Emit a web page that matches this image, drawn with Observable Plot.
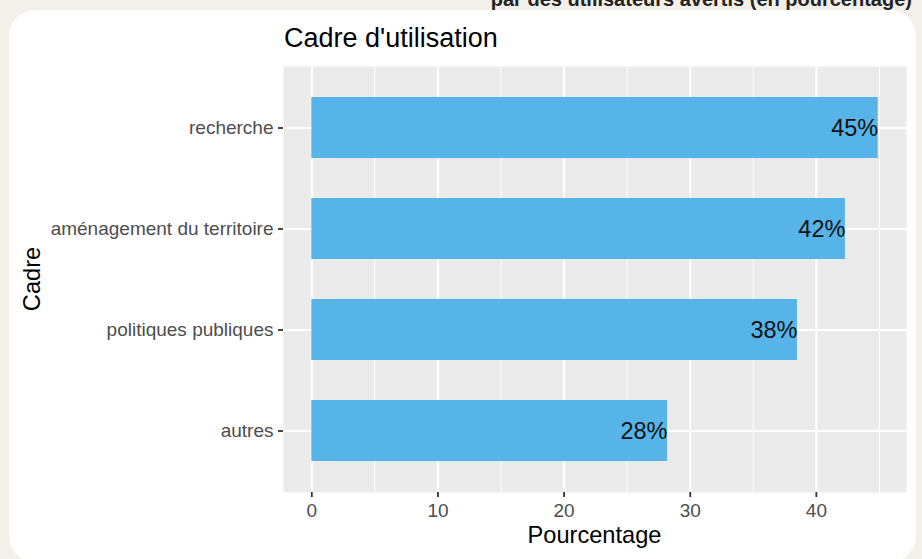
<!DOCTYPE html>
<html>
<head>
<meta charset="utf-8">
<script src="https://cdn.jsdelivr.net/npm/d3@7"></script>
<script src="https://cdn.jsdelivr.net/npm/@observablehq/plot@0.6"></script>
<style>
  html, body { margin: 0; padding: 0; }
  body { width: 922px; height: 559px; background: #f3efe9; position: relative; overflow: hidden;
         font-family: "Liberation Sans", Arial, Helvetica, sans-serif; }
  #card { position: absolute; left: 9px; top: 10px; width: 907px; height: 552px; background: #ffffff; border-radius: 26px; }
  #chart { position: absolute; left: 0; top: 0; }
  .txt { position: absolute; line-height: 1; white-space: nowrap; }
</style>
</head>
<body>
<div id="card"></div>
<div id="chart"></div>
<div class="txt" id="toptext" style="right:10px; top:-11px; font-size:20px; font-weight:bold; color:#222;">par des utilisateurs avertis (en pourcentage)</div>
<div class="txt" id="title" style="left:284px; top:25px; font-size:27px; color:#000;">Cadre d'utilisation</div>
<div class="txt" id="xtitle" style="left:594.5px; top:524px; font-size:23.6px; color:#000; transform:translateX(-50%);">Pourcentage</div>
<div class="txt" id="ytitle" style="left:0; top:0; font-size:23.6px; color:#000; transform-origin:0 0; transform:translate(41px,279px) rotate(-90deg) translate(-50%,-0.8465em);">Cadre</div>
<script>
const cadres = ["recherche", "aménagement du territoire", "politiques publiques", "autres"];
const pourcentages = [44.9, 42.3, 38.5, 28.2];
const etiquettes = ["45%", "42%", "38%", "28%"];
const xTicks = [0, 10, 20, 30, 40];
const xMinorTicks = [5, 15, 25, 35, 45];

const data = cadres.map((c, i) => ({cadre: c, valeur: pourcentages[i], etiquette: etiquettes[i]}));
const maxV = d3.max(pourcentages);

const chart = Plot.plot({
  width: 922,
  height: 559,
  marginLeft: 283,
  marginRight: 16,
  marginTop: 66,
  marginBottom: 67,
  style: {background: "transparent", fontFamily: "'Liberation Sans', Arial, Helvetica, sans-serif"},
  x: {domain: [-0.05 * maxV, 1.05 * maxV]},
  y: {domain: cadres, paddingInner: 0.4, paddingOuter: 0.3},
  marks: [
    Plot.frame({fill: "#ebebeb", stroke: null}),
    Plot.ruleX(xMinorTicks, {stroke: "#ffffff", strokeWidth: 1}),
    Plot.gridX(xTicks, {stroke: "#ffffff", strokeOpacity: 1, strokeWidth: 2}),
    Plot.gridY({stroke: "#ffffff", strokeOpacity: 1, strokeWidth: 2}),
    Plot.barX(data, {x: "valeur", y: "cadre", fill: "#56b4e9"}),
    Plot.text(data, {x: "valeur", y: "cadre", text: "etiquette", textAnchor: "end", fontSize: 23.5, fill: "#111"}),
    Plot.axisX({ticks: xTicks, tickSize: 5, tickPadding: 6, fontSize: 19, stroke: "#333", fill: "#4d4d4d", strokeWidth: 1.8, label: null}),
    Plot.axisY({tickSize: 5, tickPadding: 5, fontSize: 19, stroke: "#333", fill: "#4d4d4d", strokeWidth: 1.8, label: null})
  ]
});
document.getElementById("chart").appendChild(chart);
</script>
</body>
</html>
